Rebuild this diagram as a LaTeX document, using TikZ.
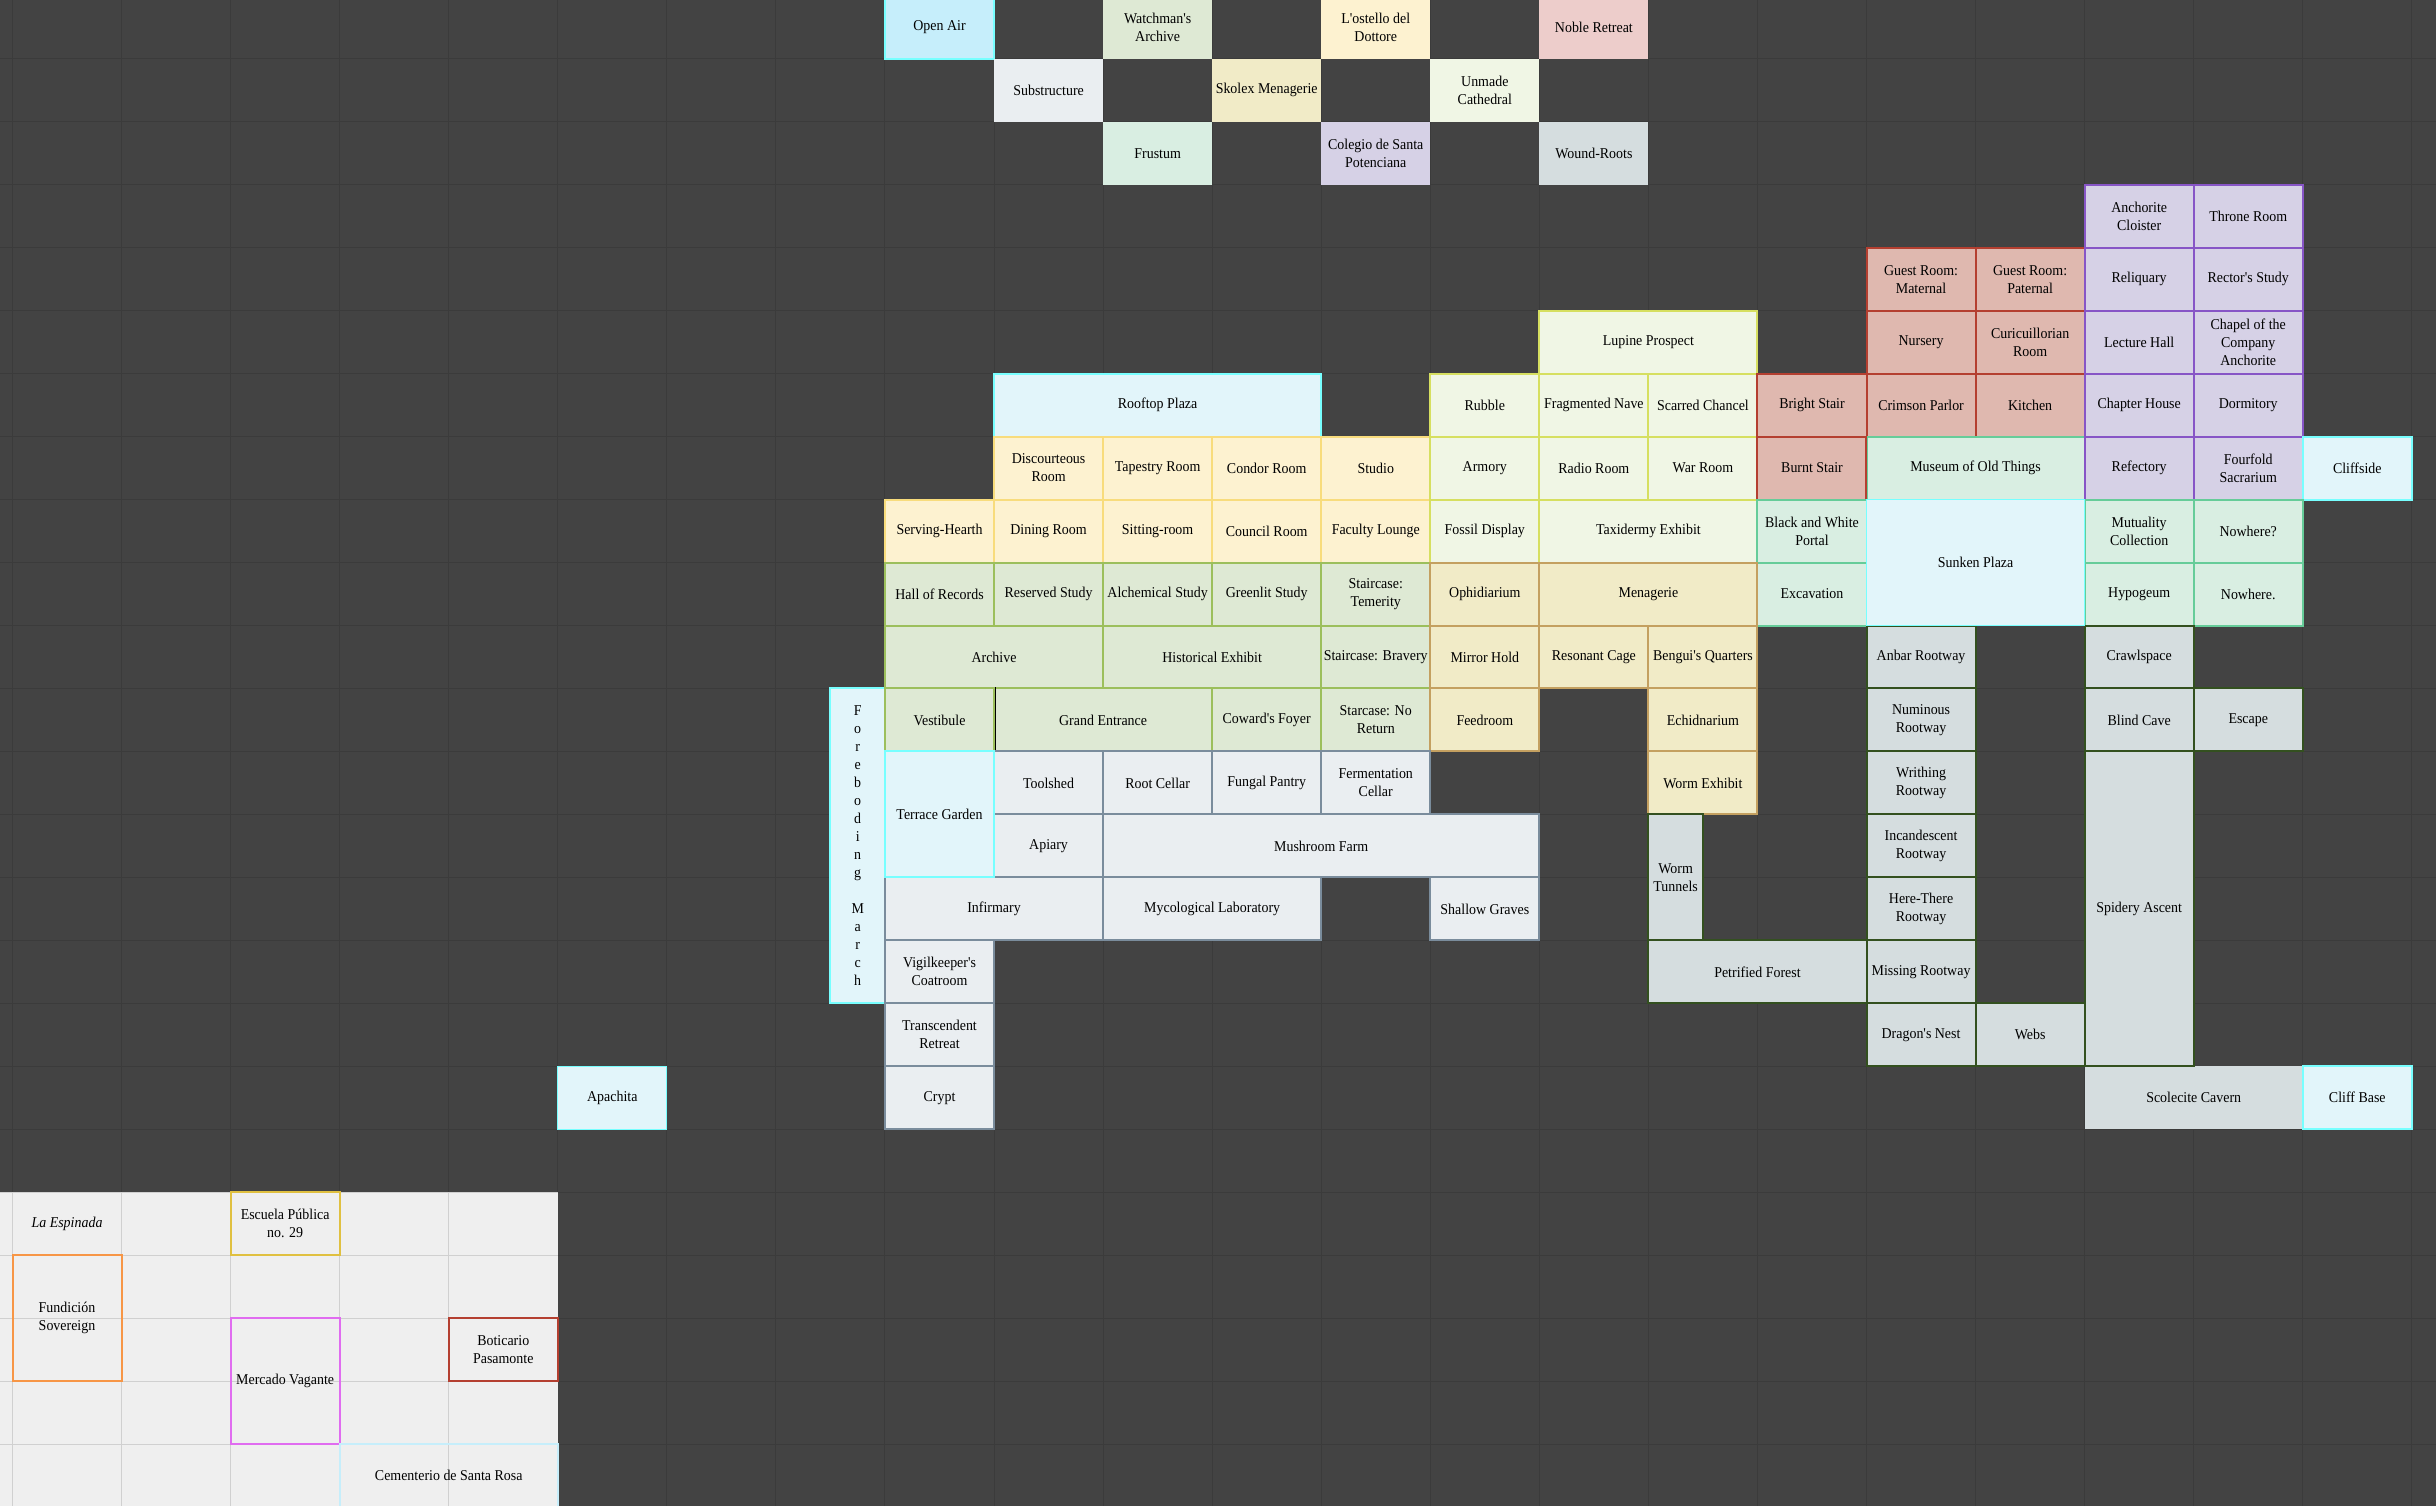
\documentclass[tikz,border=0pt]{standalone}
\usepackage{fontspec}
\newfontfamily\roomfont[FakeStretch=0.93]{Liberation Serif}
\definecolor{bgdark}{HTML}{434343}
\definecolor{griddark}{HTML}{3B3B3B}
\definecolor{bglight}{HTML}{EFEFEF}
\definecolor{gridlight}{HTML}{D0D0D0}
\definecolor{cyanb}{HTML}{77FFFF}\definecolor{cyanf}{HTML}{E2F5FA}
\definecolor{skyf}{HTML}{C6EEFB}
\definecolor{greenb}{HTML}{9CBF5C}\definecolor{greenf}{HTML}{DEE9D4}
\definecolor{yellb}{HTML}{F8DC7C}\definecolor{yellf}{HTML}{FDF2D0}
\definecolor{goldb}{HTML}{C4A060}\definecolor{goldf}{HTML}{F1EBC7}
\definecolor{limeb}{HTML}{D6DF60}\definecolor{limef}{HTML}{F0F6E5}
\definecolor{redb}{HTML}{B43F30}\definecolor{redf}{HTML}{DFB8AF}
\definecolor{purb}{HTML}{8755C6}\definecolor{purf}{HTML}{D6D1E6}
\definecolor{mintb}{HTML}{66CC99}\definecolor{mintf}{HTML}{D9EEE2}
\definecolor{slateb}{HTML}{7A8C9C}\definecolor{slatef}{HTML}{EAEEF1}
\definecolor{rootb}{HTML}{33501F}\definecolor{rootf}{HTML}{D5DDDF}
\definecolor{pinkf}{HTML}{EDCDCB}
\definecolor{orangeb}{HTML}{F79646}\definecolor{magb}{HTML}{E06CF0}\definecolor{escb}{HTML}{E0C040}
\tikzset{
  room/.style={rectangle,inner sep=0pt,align=center,text=black,line width=2pt,
    font=\roomfont\fontsize{15}{18}\selectfont},
  cyanroom/.style={room,draw=cyanb,fill=cyanf},
  cyanthin/.style={room,draw=cyanb,fill=cyanf,line width=1pt},
  skyroom/.style={room,draw=cyanb,fill=skyf},
  greenroom/.style={room,draw=greenb,fill=greenf},
  yellroom/.style={room,draw=yellb,fill=yellf},
  goldroom/.style={room,draw=goldb,fill=goldf},
  limeroom/.style={room,draw=limeb,fill=limef},
  redroom/.style={room,draw=redb,fill=redf},
  purroom/.style={room,draw=purb,fill=purf},
  mintroom/.style={room,draw=mintb,fill=mintf},
  slateroom/.style={room,draw=slateb,fill=slatef},
  rootroom/.style={room,draw=rootb,fill=rootf,line width=2pt},
  plainroot/.style={room,fill=rootf},
  tile/.style={room,fill=#1},
  onlight/.style={room,draw=#1},
}
\newcommand{\room}[7]{%
  \node[#6,minimum width={#4*109.06pt},minimum height={#5*62.97pt}] (#1)
    at ({12.5+109.06*(#2+0.5*#4)},{-4.2+62.97*(#3+0.5*#5)}) {#7};}
\begin{document}
\begin{tikzpicture}[x=1pt,y=-1pt]
\useasboundingbox (0,0) rectangle (2436,1506);
\fill[bgdark] (0,0) rectangle (2436,1506);
\foreach \c in {0,...,22} \draw[griddark,line width=1pt] ({12.5+109.06*\c},0) -- ({12.5+109.06*\c},1506);
\foreach \r in {1,...,23} \draw[griddark,line width=1pt] (0,{-4.2+62.97*\r}) -- (2436,{-4.2+62.97*\r});
% light region
\fill[bglight] (0,{-4.2+62.97*19}) rectangle ({12.5+109.06*5},1506);
\foreach \c in {0,...,4} \draw[gridlight,line width=1pt] ({12.5+109.06*\c},{-4.2+62.97*19}) -- ({12.5+109.06*\c},1506);
\foreach \r in {19,...,23} \draw[gridlight,line width=1pt] (0,{-4.2+62.97*\r}) -- ({12.5+109.06*5},{-4.2+62.97*\r});
% free-standing top rooms
\room{openair}{8}{0}{1}{1}{skyroom}{Open Air}
\room{watchman}{10}{0}{1}{1}{tile=greenf}{Watchman's\\Archive}
\room{ostello}{12}{0}{1}{1}{tile=yellf}{L'ostello del\\Dottore}
\room{noble}{14}{0}{1}{1}{tile=pinkf}{Noble Retreat}
\room{substructure}{9}{1}{1}{1}{tile=slatef}{Substructure}
\room{skolex}{11}{1}{1}{1}{tile=goldf}{Skolex Menagerie}
\room{unmade}{13}{1}{1}{1}{tile=limef}{Unmade\\Cathedral}
\room{frustum}{10}{2}{1}{1}{tile=mintf}{Frustum}
\room{colegio}{12}{2}{1}{1}{tile=purf}{Colegio de Santa\\Potenciana}
\room{wound}{14}{2}{1}{1}{tile=rootf}{Wound-Roots}
% rooftop
\room{rooftop}{9}{6}{3}{1}{cyanroom}{Rooftop Plaza}
% yellow
\room{discourteous}{9}{7}{1}{1}{yellroom}{Discourteous\\Room}
\room{tapestry}{10}{7}{1}{1}{yellroom}{Tapestry Room}
\room{condor}{11}{7}{1}{1}{yellroom}{Condor Room}
\room{studio}{12}{7}{1}{1}{yellroom}{Studio}
\room{serving}{8}{8}{1}{1}{yellroom}{Serving-Hearth}
\room{dining}{9}{8}{1}{1}{yellroom}{Dining Room}
\room{sitting}{10}{8}{1}{1}{yellroom}{Sitting-room}
\room{council}{11}{8}{1}{1}{yellroom}{Council Room}
\room{faculty}{12}{8}{1}{1}{yellroom}{Faculty Lounge}
% lime
\room{lupine}{14}{5}{2}{1}{limeroom}{Lupine Prospect}
\room{rubble}{13}{6}{1}{1}{limeroom}{Rubble}
\room{fragmented}{14}{6}{1}{1}{limeroom}{Fragmented Nave}
\room{scarred}{15}{6}{1}{1}{limeroom}{Scarred Chancel}
\room{armory}{13}{7}{1}{1}{limeroom}{Armory}
\room{radio}{14}{7}{1}{1}{limeroom}{Radio Room}
\room{war}{15}{7}{1}{1}{limeroom}{War Room}
\room{fossil}{13}{8}{1}{1}{limeroom}{Fossil Display}
\room{taxidermy}{14}{8}{2}{1}{limeroom}{Taxidermy Exhibit}
% red
\room{guestm}{17}{4}{1}{1}{redroom}{Guest Room:\\Maternal}
\room{guestp}{18}{4}{1}{1}{redroom}{Guest Room:\\Paternal}
\room{nursery}{17}{5}{1}{1}{redroom}{Nursery}
\room{curicuillorian}{18}{5}{1}{1}{redroom}{Curicuillorian\\Room}
\room{bright}{16}{6}{1}{1}{redroom}{Bright Stair}
\room{crimson}{17}{6}{1}{1}{redroom}{Crimson Parlor}
\room{kitchen}{18}{6}{1}{1}{redroom}{Kitchen}
\room{burnt}{16}{7}{1}{1}{redroom}{Burnt Stair}
% museum
\room{museum}{17}{7}{2}{1}{mintroom}{Museum of Old Things}
\draw[redb,line width=2pt] (museum.north west) -- (museum.south west);
% purple
\room{anchorite}{19}{3}{1}{1}{purroom}{Anchorite\\Cloister}
\room{throne}{20}{3}{1}{1}{purroom}{Throne Room}
\room{reliquary}{19}{4}{1}{1}{purroom}{Reliquary}
\room{rector}{20}{4}{1}{1}{purroom}{Rector's Study}
\room{lecture}{19}{5}{1}{1}{purroom}{Lecture Hall}
\room{chapel}{20}{5}{1}{1}{purroom}{Chapel of the\\Company\\Anchorite}
\room{chapter}{19}{6}{1}{1}{purroom}{Chapter House}
\room{dormitory}{20}{6}{1}{1}{purroom}{Dormitory}
\room{refectory}{19}{7}{1}{1}{purroom}{Refectory}
\room{fourfold}{20}{7}{1}{1}{purroom}{Fourfold\\Sacrarium}
\room{cliffside}{21}{7}{1}{1}{cyanroom}{Cliffside}
% mint
\room{portal}{16}{8}{1}{1}{mintroom}{Black and White\\Portal}
\room{excavation}{16}{9}{1}{1}{mintroom}{Excavation}
\room{mutuality}{19}{8}{1}{1}{mintroom}{Mutuality\\Collection}
\room{nowhereq}{20}{8}{1}{1}{mintroom}{Nowhere?}
\room{hypogeum}{19}{9}{1}{1}{mintroom}{Hypogeum}
\room{nowhered}{20}{9}{1}{1}{mintroom}{Nowhere.}
% foreboding
\room{foreboding}{7.5}{11}{0.5}{5}{cyanroom}{F\\o\\r\\e\\b\\o\\d\\i\\n\\g\\[18pt]M\\a\\r\\c\\h}
% green
\room{records}{8}{9}{1}{1}{greenroom}{Hall of Records}
\room{reserved}{9}{9}{1}{1}{greenroom}{Reserved Study}
\room{alchemical}{10}{9}{1}{1}{greenroom}{Alchemical Study}
\room{greenlit}{11}{9}{1}{1}{greenroom}{Greenlit Study}
\room{temerity}{12}{9}{1}{1}{greenroom}{Staircase:\\Temerity}
\room{archive}{8}{10}{2}{1}{greenroom}{Archive}
\room{historical}{10}{10}{2}{1}{greenroom}{Historical Exhibit}
\room{bravery}{12}{10}{1}{1}{greenroom}{Staircase: Bravery}
\room{vestibule}{8}{11}{1}{1}{greenroom}{Vestibule}
\room{grand}{9}{11}{2}{1}{greenroom}{Grand Entrance}
\room{coward}{11}{11}{1}{1}{greenroom}{Coward's Foyer}
\room{noreturn}{12}{11}{1}{1}{greenroom}{Starcase: No\\Return}
\draw[black,line width=1pt] (vestibule.north east) -- (vestibule.south east);
% gold
\room{ophidiarium}{13}{9}{1}{1}{goldroom}{Ophidiarium}
\room{menagerie}{14}{9}{2}{1}{goldroom}{Menagerie}
\room{mirror}{13}{10}{1}{1}{goldroom}{Mirror Hold}
\room{resonant}{14}{10}{1}{1}{goldroom}{Resonant Cage}
\room{bengui}{15}{10}{1}{1}{goldroom}{Bengui's Quarters}
\room{feedroom}{13}{11}{1}{1}{goldroom}{Feedroom}
\room{echidnarium}{15}{11}{1}{1}{goldroom}{Echidnarium}
\room{wormexhibit}{15}{12}{1}{1}{goldroom}{Worm Exhibit}
% slate
\room{toolshed}{9}{12}{1}{1}{slateroom}{Toolshed}
\room{rootcellar}{10}{12}{1}{1}{slateroom}{Root Cellar}
\room{fungal}{11}{12}{1}{1}{slateroom}{Fungal Pantry}
\room{fermentation}{12}{12}{1}{1}{slateroom}{Fermentation\\Cellar}
\room{apiary}{9}{13}{1}{1}{slateroom}{Apiary}
\room{mushroom}{10}{13}{4}{1}{slateroom}{Mushroom Farm}
\room{infirmary}{8}{14}{2}{1}{slateroom}{Infirmary}
\room{mycological}{10}{14}{2}{1}{slateroom}{Mycological Laboratory}
\room{shallow}{13}{14}{1}{1}{slateroom}{Shallow Graves}
\room{vigilkeeper}{8}{15}{1}{1}{slateroom}{Vigilkeeper's\\Coatroom}
\room{transcendent}{8}{16}{1}{1}{slateroom}{Transcendent\\Retreat}
\room{crypt}{8}{17}{1}{1}{slateroom}{Crypt}
\room{terrace}{8}{12}{1}{2}{cyanroom}{Terrace Garden}
% roots
\room{scolecite}{19}{17}{2}{1}{plainroot}{Scolecite Cavern}
\room{anbar}{17}{10}{1}{1}{rootroom}{Anbar Rootway}
\room{crawlspace}{19}{10}{1}{1}{rootroom}{Crawlspace}
\room{numinous}{17}{11}{1}{1}{rootroom}{Numinous\\Rootway}
\room{blind}{19}{11}{1}{1}{rootroom}{Blind Cave}
\room{escape}{20}{11}{1}{1}{rootroom}{Escape}
\room{writhing}{17}{12}{1}{1}{rootroom}{Writhing\\Rootway}
\room{spidery}{19}{12}{1}{5}{rootroom}{Spidery Ascent}
\room{incandescent}{17}{13}{1}{1}{rootroom}{Incandescent\\Rootway}
\room{wormtunnels}{15}{13}{0.5}{2}{rootroom}{Worm\\Tunnels}
\room{herethere}{17}{14}{1}{1}{rootroom}{Here-There\\Rootway}
\room{petrified}{15}{15}{2}{1}{rootroom}{Petrified Forest}
\room{missing}{17}{15}{1}{1}{rootroom}{Missing Rootway}
\room{dragon}{17}{16}{1}{1}{rootroom}{Dragon's Nest}
\room{webs}{18}{16}{1}{1}{rootroom}{Webs}
\room{sunken}{17}{8}{2}{2}{cyanthin}{Sunken Plaza}
\room{cliffbase}{21}{17}{1}{1}{cyanroom}{Cliff Base}
\room{apachita}{5}{17}{1}{1}{cyanthin}{Apachita}
% light region rooms
\room{espinada}{0}{19}{1}{1}{room}{\itshape La Espinada}
\room{escuela}{2}{19}{1}{1}{onlight=escb}{Escuela Pública\\no. 29}
\room{fundicion}{0}{20}{1}{2}{onlight=orangeb}{Fundición\\Sovereign}
\room{mercado}{2}{21}{1}{2}{onlight=magb}{Mercado Vagante}
\room{boticario}{4}{21}{1}{1}{onlight=redb}{Boticario\\Pasamonte}
\room{cementerio}{3}{23}{2}{1}{onlight=skyf}{Cementerio de Santa Rosa}
\end{tikzpicture}
\end{document}
